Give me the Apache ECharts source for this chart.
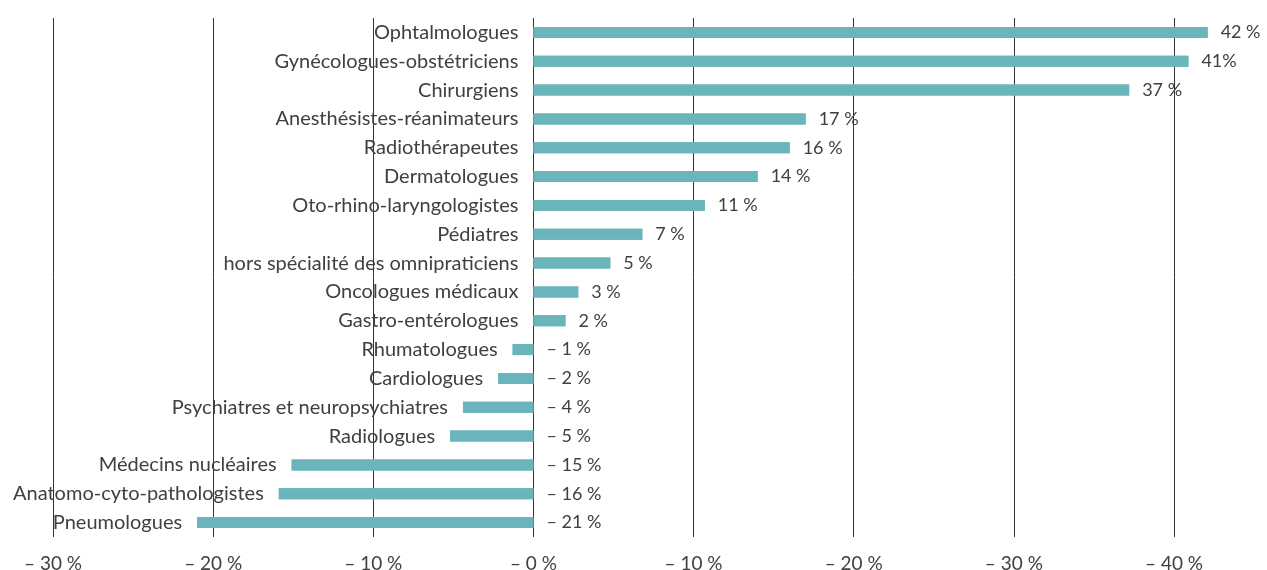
<!DOCTYPE html>
<html>
<head>
<meta charset="utf-8">
<script src="https://cdn.jsdelivr.net/npm/echarts@6/dist/echarts.min.js"></script>
<style>
  html, body { margin: 0; padding: 0; background: #fff; }
  #main { width: 1267px; height: 570px; }
</style>
</head>
<body>
<div id="main"></div>
<script>
// spécialités, du haut vers le bas
var specialites = [
  'Ophtalmologues', 'Gynécologues-obstétriciens', 'Chirurgiens',
  'Anesthésistes-réanimateurs', 'Radiothérapeutes', 'Dermatologues',
  'Oto-rhino-laryngologistes', 'Pédiatres', 'hors spécialité des omnipraticiens',
  'Oncologues médicaux', 'Gastro-entérologues', 'Rhumatologues', 'Cardiologues',
  'Psychiatres et neuropsychiatres', 'Radiologues', 'Médecins nucléaires',
  'Anatomo-cyto-pathologistes', 'Pneumologues'
];
// évolution (%)
var evolution = [42.1, 40.9, 37.2, 17, 16, 14, 10.7, 6.8, 4.8, 2.8, 2.0,
  -1.3, -2.2, -4.4, -5.2, -15.1, -15.9, -21];
// étiquettes affichées
var etiquettes = ['42 %', '41%', '37 %', '17 %', '16 %', '14 %', '11 %', '7 %',
  '5 %', '3 %', '2 %', '– 1 %', '– 2 %', '– 4 %', '– 5 %', '– 15 %', '– 16 %', '– 21 %'];
// axe horizontal
var ticks = [-30, -20, -10, 0, 10, 20, 30, 40];
var tickLabels = ['– 30 %', '– 20 %', '– 10 %', '– 0 %', '– 10 %', '– 20 %', '– 30 %', '– 40 %'];

var police = 'Lato';
var gris = '#404040';
var teal = '#69b5bb';

var myechart = echarts.init(document.getElementById('main'));
myechart.setOption({
  animation: false,
  grid: { left: 53, right: 93, top: 18, bottom: 33, containLabel: false, outerBoundsMode: 'none' },
  xAxis: {
    type: 'value',
    min: ticks[0],
    max: ticks[ticks.length - 1],
    interval: 10,
    axisLine: { show: false },
    axisTick: { show: false },
    splitLine: { show: true, lineStyle: { color: '#333', width: 1 } },
    axisLabel: {
      margin: 17,
      color: gris,
      fontFamily: police,
      fontSize: 19,
      formatter: function (v) {
        var i = ticks.indexOf(v);
        return i >= 0 ? tickLabels[i] : '';
      }
    }
  },
  yAxis: {
    type: 'category',
    inverse: true,
    data: specialites,
    axisLine: { show: false },
    axisTick: { show: false },
    axisLabel: { show: false }
  },
  series: [{
    // nom de la spécialité à gauche de la barre
    type: 'bar',
    clip: false,
    barWidth: 11,
    itemStyle: { color: teal },
    data: evolution,
    label: {
      show: true,
      position: 'left',
      distance: 15,
      color: gris,
      fontFamily: police,
      fontSize: 20,
      formatter: function (p) { return specialites[p.dataIndex]; }
    }
  }, {
    // valeur à droite
    type: 'bar',
    clip: false,
    barWidth: 11,
    barGap: '-100%',
    itemStyle: { color: teal },
    data: evolution,
    label: {
      show: true,
      position: 'right',
      distance: 13,
      color: gris,
      fontFamily: police,
      fontSize: 18,
      formatter: function (p) { return etiquettes[p.dataIndex]; }
    }
  }]
});
</script>
</body>
</html>
